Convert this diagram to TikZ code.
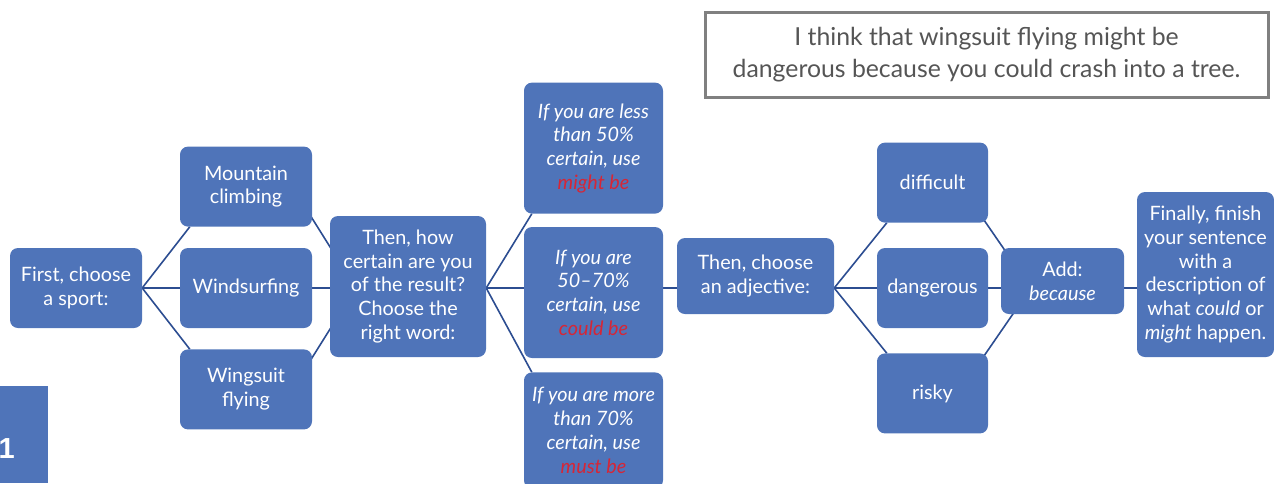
\documentclass[tikz,border=0pt]{standalone}
\usepackage{fontspec}
\setmainfont{Lato}
\newfontfamily\numfont{Liberation Sans}
\usetikzlibrary{positioning,backgrounds}

\definecolor{boxblue}{RGB}{79,116,185}
\definecolor{linkblue}{RGB}{44,77,145}
\definecolor{wordred}{RGB}{214,38,54}
\definecolor{quotegray}{RGB}{128,128,128}
\definecolor{quotetext}{RGB}{85,85,85}

\begin{document}
\begin{tikzpicture}[x=1pt, y=-1pt, node distance=21pt]
        \tikzstyle{box}=[fill=boxblue, rounded corners=8pt, text=white, align=center, inner sep=2pt, font=\fontsize{19.8}{23.7}\selectfont];
        \tikzstyle{sport}=[box, minimum width=132pt, minimum height=80pt];
        \tikzstyle{cert}=[box, minimum width=139pt, minimum height=131pt, font=\fontsize{19.8}{23.7}\selectfont\itshape];
        \tikzstyle{adject}=[box, minimum width=111pt, minimum height=80pt];
        \tikzstyle{link}=[draw=linkblue, line width=1.6pt];

        \useasboundingbox (0,0) rectangle (1274,483);
        \coordinate (axis) at (0,288);

        \node[box, minimum width=132pt, minimum height=80pt] (first) at (76,288) {First, choose\\a sport:};
        \node[sport] (surf) at (246,288) {Windsurfing};
        \node[sport, above=of surf] (climb) {Mountain\\climbing};
        \node[sport, below=of surf] (wing) {Wingsuit\\flying};

        \node[box, minimum width=156pt, minimum height=141pt] (how) at (408,286.5) {Then, how\\certain are you\\of the result?\\Choose the\\right word:};

        \node[cert] (mid) at (593.5,292.5) {If you are\\50–70\%\\certain, use\\\textcolor{wordred}{could be}};
        \node[cert, above=13pt of mid] (less) {If you are less\\than 50\%\\certain, use\\\textcolor{wordred}{might be}};
        \node[cert, below=14pt of mid, minimum height=116pt] (more) {If you are more\\than 70\%\\certain, use\\\textcolor{wordred}{must be}};

        \node[box, minimum width=157pt, minimum height=76pt] (adj) at (755.5,276) {Then, choose\\an adjective:};

        \node[adject] (dang) at (932.5,288) {dangerous};
        \node[adject, above=25pt of dang] (diff) {difficult};
        \node[adject, below=25pt of dang] (risky) {risky};

        \node[box, minimum width=123pt, minimum height=66pt] (add) at (1062.5,281) {Add:\\\textit{because}};
        \node[box, minimum width=137pt, minimum height=165pt] (fin) at (1205.5,274.5) {Finally, finish\\your sentence\\with a\\description of\\what \textit{could} or\\\textit{might} happen.};

        \node[draw=quotegray, line width=3pt, minimum width=563pt, minimum height=85pt, text=quotetext, align=center, font=\fontsize{24.8}{32}\selectfont] (quote) at (986.5,55) {I think that wingsuit flying might be\\dangerous because you could crash into a tree.};

        \fill[boxblue] (0,386) rectangle (48,483);
        \node[anchor=base east, inner sep=0pt, text=white, font=\numfont\bfseries\fontsize{29}{29}\selectfont] (num) at (15,458) {1};

        \begin{scope}[on background layer]
            \draw[link] (first.east) -- ([xshift=10pt]climb.south west);
            \draw[link] (first.east) -- (first.east -| surf.west);
            \draw[link] (first.east) -- ([xshift=10pt]wing.north west);
            \draw[link] ([xshift=26pt]how.west |- axis) -- ([xshift=-20pt]climb.east);
            \draw[link] (surf.east |- axis) -- (how.west |- axis);
            \draw[link] ([xshift=26pt]how.west |- axis) -- ([xshift=-20pt]wing.east);
            \draw[link] (how.east |- axis) -- ([xshift=8pt]less.south west);
            \draw[link] (how.east |- axis) -- (mid.west |- axis);
            \draw[link] (how.east |- axis) -- ([xshift=8pt]more.north west);
            \draw[link] (mid.east |- axis) -- (adj.west |- axis);
            \draw[link] (adj.east |- axis) -- ([xshift=10pt]diff.south west);
            \draw[link] (adj.east |- axis) -- (dang.west);
            \draw[link] (adj.east |- axis) -- ([xshift=10pt]risky.north west);
            \draw[link] ([xshift=30pt]add.west |- axis) -- ([xshift=-30pt]diff.east);
            \draw[link] (dang.east) -- (add.west |- axis);
            \draw[link] ([xshift=30pt]add.west |- axis) -- ([xshift=-30pt]risky.east);
            \draw[link] (add.east |- axis) -- (fin.west |- axis);
        \end{scope}
    \end{tikzpicture}
\end{document}
